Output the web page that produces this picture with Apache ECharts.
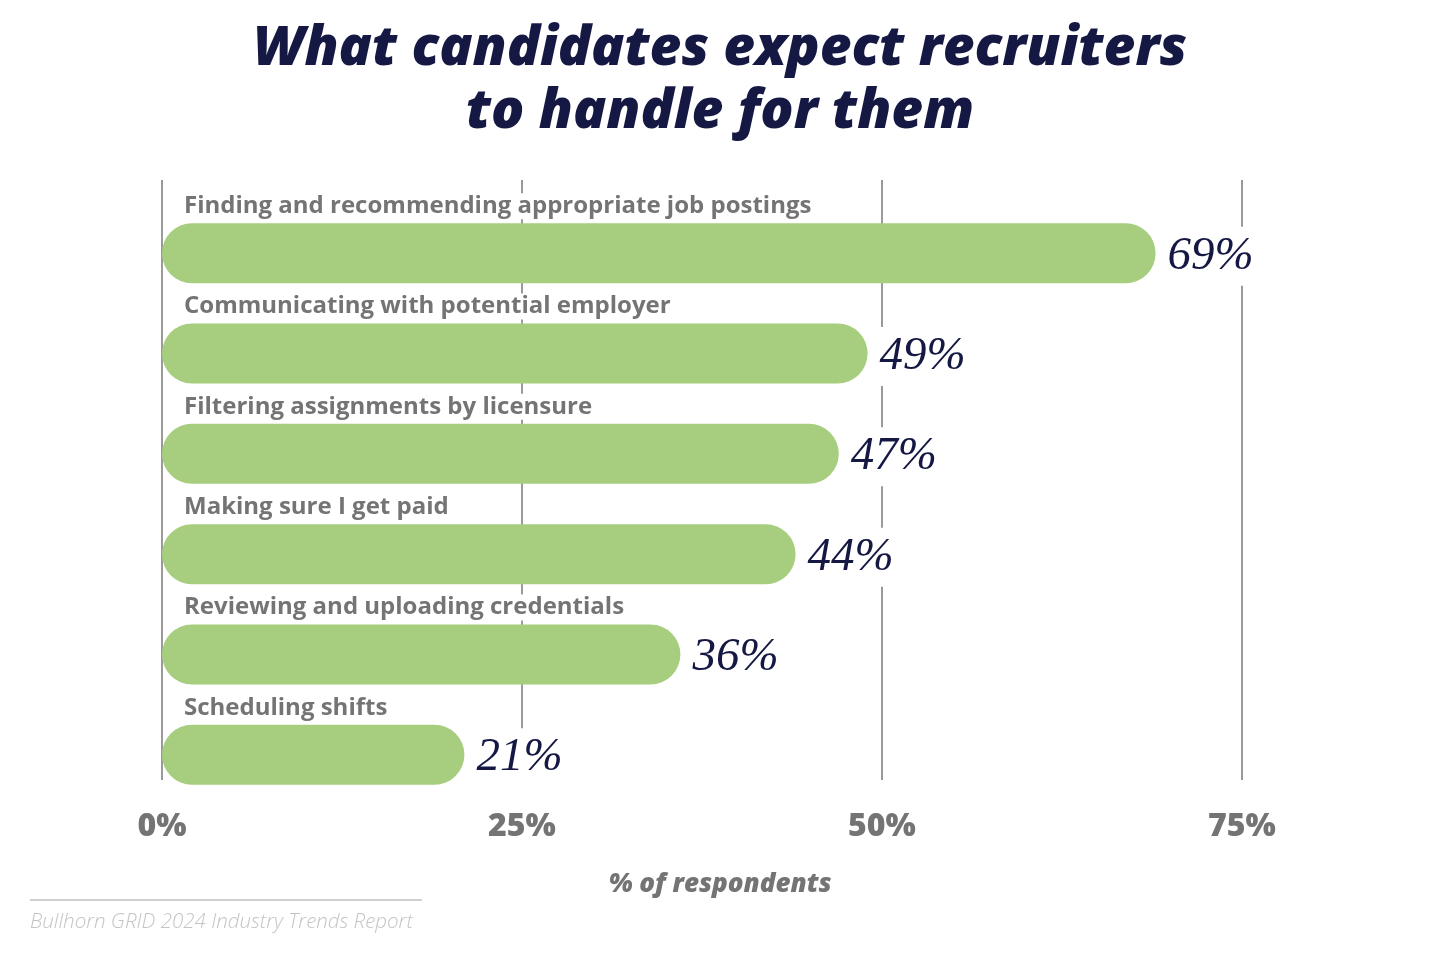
<!DOCTYPE html>
<html><head><meta charset="utf-8">
<script src="https://cdn.jsdelivr.net/npm/echarts@6/dist/echarts.min.js"></script>
<style>html,body{margin:0;padding:0;background:#fff}#c{width:1440px;height:956px}</style>
</head><body><div id="c"></div>
<script>
const categories = [
  "Finding and recommending appropriate job postings",
  "Communicating with potential employer",
  "Filtering assignments by licensure",
  "Making sure I get paid",
  "Reviewing and uploading credentials",
  "Scheduling shifts"
];
const values = [69, 49, 47, 44, 36, 21];
const tickValues = [0, 25, 50, 75];

const NAVY = '#141843', GRAY = '#747474', GREEN = '#a6ce7e';
const SANS = '"Open Sans"';
const chart = echarts.init(document.getElementById('c'));
chart.setOption({
  backgroundColor: '#fff',
  animation: false,
  title: [{
    text: 'What candidates expect recruiters\nto handle for them',
    left: 'center', top: 13,
    textStyle: {fontFamily: SANS, fontWeight: 800, fontStyle: 'italic', fontSize: 55, lineHeight: 63, color: NAVY}
  }, {
    text: '% of respondents',
    left: 'center', top: 867,
    textStyle: {fontFamily: SANS, fontWeight: 800, fontStyle: 'italic', fontSize: 26, color: GRAY}
  }, {
    text: 'Bullhorn GRID 2024 Industry Trends Report',
    left: 25, top: 907,
    textStyle: {fontFamily: SANS, fontWeight: 300, fontStyle: 'italic', fontSize: 20.5, color: '#c4c4c4'}
  }],
  graphic: [{
    type: 'line', shape: {x1: 30, y1: 900, x2: 422, y2: 900},
    style: {stroke: '#d0d0d0', lineWidth: 2}
  }],
  grid: [
    {left: 162, right: 198, top: 203, height: 602},
    {left: 162, right: 198, top: 180, height: 600}
  ],
  xAxis: [{
    gridIndex: 0, type: 'value', min: 0, max: 75, interval: 25,
    axisLine: {show: false}, axisTick: {show: false}, splitLine: {show: false},
    axisLabel: {show: true, margin: 6, formatter: v => v + '%', fontFamily: SANS, fontWeight: 800, fontSize: 32, color: GRAY}
  }, {
    gridIndex: 1, type: 'value', min: 0, max: 75, interval: 25,
    axisLine: {show: false}, axisTick: {show: false}, axisLabel: {show: false},
    splitLine: {show: true, lineStyle: {color: '#9a9a9a', width: 2}}
  }],
  yAxis: [{
    gridIndex: 0, type: 'category', data: categories, inverse: true,
    axisLine: {show: false}, axisTick: {show: false}, axisLabel: {show: false}
  }, {
    gridIndex: 1, type: 'category', data: categories, inverse: true, show: false
  }],
  series: [{
    type: 'bar', xAxisIndex: 0, yAxisIndex: 0, data: values, barWidth: 60, z: 3,
    itemStyle: {color: GREEN, borderRadius: 30},
    label: {
      show: true, position: 'right', distance: 9, offset: [0, 3],
      formatter: p => p.value + '%',
      fontFamily: 'Liberation Serif', fontStyle: 'italic', fontSize: 47, color: NAVY,
      backgroundColor: '#fff', padding: [10, 3, 2, 3]
    }
  }, {
    type: 'bar', xAxisIndex: 0, yAxisIndex: 0, data: values, barWidth: 60, barGap: '-100%', z: 4,
    itemStyle: {color: 'rgba(0,0,0,0)'},
    label: {
      show: true, position: [20, -17], align: 'left', verticalAlign: 'middle',
      formatter: p => p.name,
      fontFamily: SANS, fontWeight: 700, fontSize: 24, color: GRAY,
      backgroundColor: '#fff', padding: [1, 2, 1, 2]
    }
  }]
});
</script></body></html>
